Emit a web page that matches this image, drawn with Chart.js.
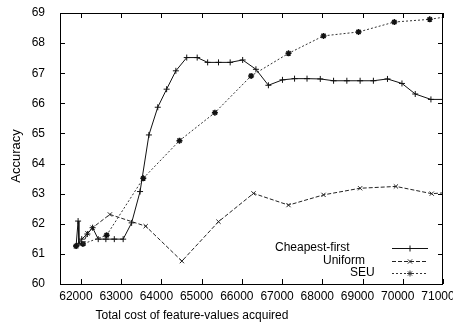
<!DOCTYPE html>
<html>
<head>
<meta charset="utf-8">
<script src="https://cdn.jsdelivr.net/npm/chart.js@4.4.1/dist/chart.umd.min.js"></script>
<style>
  html, body { margin: 0; padding: 0; background: #fff; }
  #wrap { width: 453px; height: 324px; }
</style>
</head>
<body>
<div id="wrap"><canvas id="chart" width="453" height="324"></canvas></div>
<script>
// Values
const cheapX = [61880, 61930, 61950, 62020, 62160, 62290, 62430, 62620, 62830, 63050, 63260, 63470, 63690, 63910, 64130, 64360, 64630, 64890, 65150, 65420, 65710, 66020, 66350, 66660, 67010, 67310, 67620, 67950, 68280, 68610, 68940, 69270, 69620, 69980, 70310, 70700, 71600];
const cheapY = [61.26, 62.09, 61.35, 61.49, 61.66, 61.87, 61.49, 61.49, 61.49, 61.49, 62.03, 63.07, 64.95, 65.87, 66.47, 67.08, 67.52, 67.52, 67.36, 67.36, 67.36, 67.44, 67.13, 66.60, 66.78, 66.82, 66.82, 66.81, 66.75, 66.75, 66.75, 66.75, 66.81, 66.66, 66.31, 66.13, 66.13];

const uniX = [61880, 62060, 62160, 62290, 62720, 63610, 64510, 65420, 66290, 67160, 68030, 68940, 69830, 70720, 71600];
const uniY = [61.26, 61.35, 61.68, 61.87, 62.31, 61.92, 60.76, 62.07, 63.01, 62.62, 62.96, 63.18, 63.24, 63.00, 63.08];

const seuX = [61880, 62050, 62640, 63550, 64450, 65330, 66230, 67160, 68030, 68900, 69790, 70670, 71540];
const seuY = [61.26, 61.33, 61.62, 63.51, 64.76, 65.69, 66.91, 67.66, 68.24, 68.37, 68.70, 68.79, 68.97];

const xTicks = [62000, 63000, 64000, 65000, 66000, 67000, 68000, 69000, 70000, 71000];
const yTicks = [60, 61, 62, 63, 64, 65, 66, 67, 68, 69];

const seriesNames = ['Cheapest-first', 'Uniform', 'SEU'];

const FONT = 'Liberation Sans, Arial, sans-serif';

function toPoints(xs, ys) {
    return xs.map((x, i) => ({ x: x, y: ys[i] }));
}

// Box, inward ticks, axis titles and legend, gnuplot style
const framePlugin = {
    id: 'frame',
    afterDraw(chart) {
        const ctx = chart.ctx;
        const a = chart.chartArea;
        const xs = chart.scales.x;
        const ys = chart.scales.y;
        ctx.save();
        ctx.strokeStyle = '#000';
        ctx.lineWidth = 1;
        ctx.setLineDash([]);
        ctx.strokeRect(a.left + 0.5, a.top + 0.5, a.right - a.left - 1, a.bottom - a.top);

        ctx.beginPath();
        xTicks.forEach(v => {
            const px = Math.round(xs.getPixelForValue(v)) + 0.5;
            ctx.moveTo(px, a.bottom);
            ctx.lineTo(px, a.bottom - 5);
            ctx.moveTo(px, a.top);
            ctx.lineTo(px, a.top + 5);
        });
        yTicks.forEach(v => {
            const py = Math.round(ys.getPixelForValue(v)) + 0.5;
            ctx.moveTo(a.left, py);
            ctx.lineTo(a.left + 5, py);
            ctx.moveTo(a.right, py);
            ctx.lineTo(a.right - 5, py);
        });
        ctx.stroke();

        // axis titles
        ctx.fillStyle = '#000';
        ctx.font = '12px ' + FONT;
        ctx.textAlign = 'center';
        ctx.textBaseline = 'middle';
        ctx.fillText('Total cost of feature-values acquired', 192, 316);
        ctx.save();
        ctx.translate(16, 156);
        ctx.rotate(-Math.PI / 2);
        ctx.font = '13px ' + FONT;
        ctx.fillText('Accuracy', 0, 0);
        ctx.restore();

        // legend
        const rows = [
            { y: 248, tx: 275, ds: chart.data.datasets[0] },
            { y: 261, tx: 323, ds: chart.data.datasets[1] },
            { y: 273, tx: 350, ds: chart.data.datasets[2] }
        ];
        ctx.font = '12px ' + FONT;
        ctx.textAlign = 'left';
        rows.forEach((r, i) => {
            ctx.fillStyle = '#000';
            ctx.fillText(seriesNames[i], r.tx, r.y);
            ctx.strokeStyle = r.ds.borderColor;
            ctx.lineWidth = r.ds.borderWidth;
            ctx.setLineDash(r.ds.borderDash || []);
            ctx.beginPath();
            ctx.moveTo(392, r.y + 0.5);
            ctx.lineTo(428, r.y + 0.5);
            ctx.stroke();
            ctx.setLineDash([]);
            Chart.helpers.drawPoint(ctx, {
                pointStyle: r.ds.pointStyle,
                radius: r.ds.pointRadius,
                borderWidth: 1
            }, 410, r.y + 0.5);
        });
        ctx.restore();
    }
};

const ctx = document.getElementById('chart').getContext('2d');
const chart = new Chart(ctx, {
    type: 'line',
    data: {
        datasets: [{
            label: seriesNames[0],
            data: toPoints(cheapX, cheapY),
            borderColor: '#111',
            pointBorderColor: '#111',
            borderWidth: 1,
            pointStyle: 'cross',
            pointRadius: 3,
            pointBorderWidth: 1
        }, {
            label: seriesNames[1],
            data: toPoints(uniX, uniY),
            borderColor: '#222',
            pointBorderColor: '#222',
            borderWidth: 1,
            borderDash: [4, 2],
            pointStyle: 'crossRot',
            pointRadius: 3,
            pointBorderWidth: 1
        }, {
            label: seriesNames[2],
            data: toPoints(seuX, seuY),
            borderColor: '#333',
            pointBorderColor: '#111',
            borderWidth: 1,
            borderDash: [2, 2],
            pointStyle: 'star',
            pointRadius: 3,
            pointBorderWidth: 1.5
        }]
    },
    options: {
        responsive: false,
        animation: false,
        events: [],
        layout: { padding: { left: 0, top: 13, right: 10, bottom: 0 } },
        plugins: {
            legend: { display: false },
            tooltip: { enabled: false }
        },
        scales: {
            x: {
                type: 'linear',
                min: 61480,
                max: 71000,
                grid: { display: false, drawTicks: false },
                border: { display: false },
                afterBuildTicks: scale => { scale.ticks = xTicks.map(v => ({ value: v })); },
                afterFit: scale => {
                    scale.height = 40;
                    scale.paddingLeft = 0;
                    scale.paddingRight = 0;
                },
                ticks: {
                    color: '#000',
                    font: { family: FONT, size: 12 },
                    padding: 5,
                    labelOffset: -5,
                    maxRotation: 0,
                    autoSkip: false,
                    callback: v => String(v)
                }
            },
            y: {
                min: 60,
                max: 69,
                grid: { display: false, drawTicks: false },
                border: { display: false },
                afterBuildTicks: scale => { scale.ticks = yTicks.map(v => ({ value: v })); },
                afterFit: scale => {
                    scale.width = 60;
                    scale.paddingTop = 0;
                    scale.paddingBottom = 0;
                },
                ticks: {
                    color: '#000',
                    font: { family: FONT, size: 12 },
                    padding: 15,
                    autoSkip: false,
                    callback: v => String(v)
                }
            }
        }
    },
    plugins: [framePlugin]
});
</script>
</body>
</html>
